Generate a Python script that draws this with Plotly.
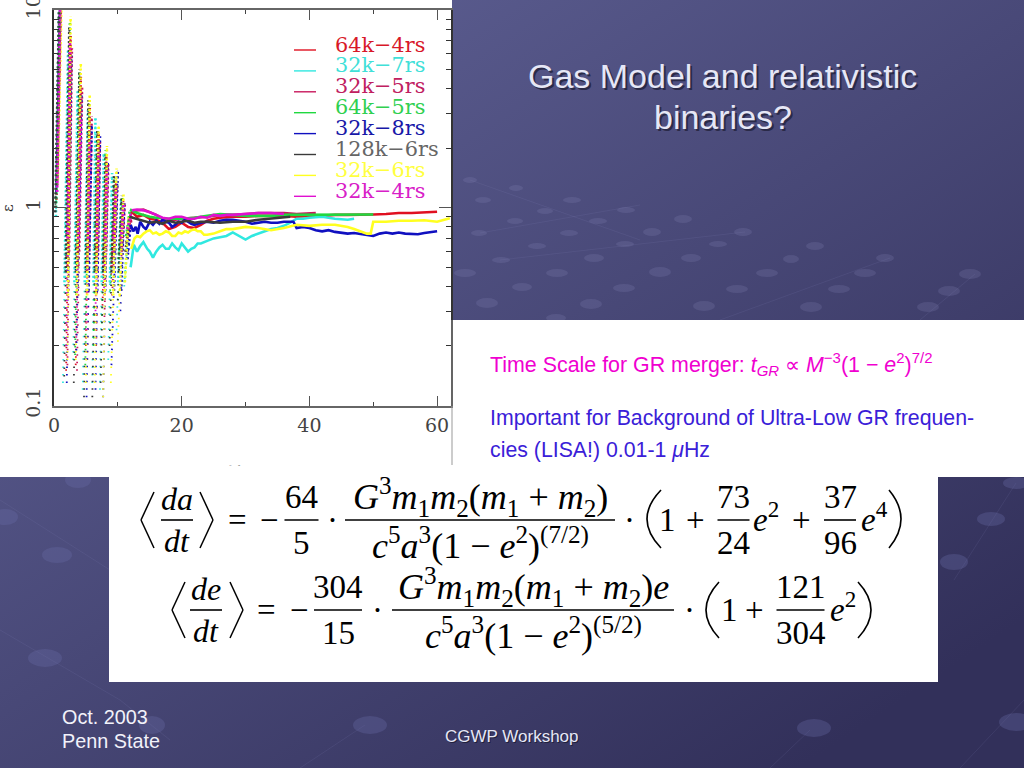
import math
import urllib.parse
import plotly.graph_objects as go

# ---- series (time, eccentricity): early oscillating part and settled part ----
RED_T0 = [0.4,1.0,1.9,2.6,3.4,4.2,5.0,5.6,6.4,7.0,7.6,8.2,8.9,9.7,10.2,10.9,11.5,12.1]
RED_E0 = [1.1,12,0.15,7.4,0.16,4.6,0.2,3.2,0.24,2.4,0.32,1.8,0.42,1.35,0.58,1.08,0.7,0.96]
RED_T1 = [12.1,13,14,15,16,17,18,19,20,21,22,23,24,25,26,28,30,32,34,36,38,40,42,44,46,48,50,52,54,56,58,60]
RED_E1 = [.96,.9,.92,.88,.87,.84,.78,.8,.84,.8,.79,.82,.86,.88,.89,.9,.9,.91,.91,.91,.9,.91,.91,.92,.92,.92,.925,.93,.94,.94,.95,.955]

CYAN_T0 = [0.3,0.8,1.4,2.2,3.0,3.7,4.5,5.3,6.0,6.5,7.2,7.8,8.5,9.1,9.8,10.5,11.0,11.7,12.0]
CYAN_E0 = [0.9,11,0.13,6.3,0.17,3.9,0.12,3.1,0.13,2.9,0.12,1.9,0.17,1.5,0.24,1.12,0.4,0.85,0.5]
CYAN_T1 = [12.0,12.5,13,13.5,14,14.6,15,15.5,16,16.5,17,17.5,18,18.5,19,19.5,20,20.5,21,21.5,22,22.5,23,24,25,26,27,28,29,30,31,32,33,34,35,36,37,38,39,40,42,44,46,47]
CYAN_E1 = [.5,.65,.6,.64,.67,.62,.6,.56,.6,.63,.65,.62,.62,.66,.63,.61,.66,.63,.6,.62,.63,.66,.66,.68,.7,.71,.72,.75,.72,.69,.72,.74,.76,.78,.79,.81,.84,.88,.88,.89,.9,.88,.87,.88]

CRIM_T0 = [0.5,1.1,2.1,2.8,3.6,4.4,5.2,5.9,6.6,7.2,7.9,8.5,9.1,9.9,10.5,11.1,11.7,12.3]
CRIM_E0 = [1.3,12,0.16,6.4,0.15,4.1,0.17,2.9,0.2,2.2,0.28,1.7,0.36,1.3,0.52,1.05,0.72,0.95]
CRIM_T1 = [12.3,13,14,15,16,17,18,19,20,22,24,26,28,30,32,34,36,38,40,41]
CRIM_E1 = [.95,.97,.98,.95,.92,.88,.86,.87,.88,.89,.9,.92,.92,.93,.94,.94,.94,.93,.94,.94]

GREEN_T0 = [0.3,0.9,1.8,2.5,3.3,4.0,4.9,5.5,6.2,6.8,7.5,8.1,8.8,9.5,10.1,10.7,11.3,11.9]
GREEN_E0 = [1.0,12,0.2,8.6,0.18,4.9,0.16,3.4,0.2,2.5,0.26,1.95,0.38,1.42,0.55,1.12,0.72,0.98]
GREEN_T1 = [11.9,13,14,15,16,18,20,22,24,26,28,30,32,34,36,38,40,42,44,46,48,50]
GREEN_E1 = [.98,.94,.92,.9,.89,.88,.88,.89,.91,.93,.92,.91,.91,.91,.92,.92,.92,.92,.92,.925,.925,.925]

BLUE_T0 = [0.4,1.0,2.0,2.7,3.5,4.3,5.1,5.9,6.5,7.2,7.7,8.4,9.0,10.0,10.4,11.0,11.5,12.0]
BLUE_E0 = [1.2,12,0.13,5.9,0.19,3.7,0.11,2.6,0.12,2.3,0.11,1.7,0.16,1.55,0.3,1.05,0.55,0.82]
BLUE_T1 = [12.0,12.4,12.8,13.1,13.5,14,14.4,15,15.5,16,16.5,17,17.5,18,18.5,19,19.5,20,20.5,21,21.5,22,23,24,25,26,27,28,29,30,31,32,33,34,35,36,37,37.5,38,39,40,41,42,43,44,45,46,47,48,49,50,51,52,53,54,55,56,57,58,59,60]
BLUE_E1 = [.82,.76,.8,.74,.85,.8,.78,.85,.82,.86,.83,.87,.85,.84,.8,.82,.85,.84,.87,.85,.83,.82,.84,.85,.84,.86,.87,.87,.86,.85,.83,.84,.85,.84,.84,.85,.85,.85,.79,.8,.79,.77,.76,.77,.755,.75,.74,.745,.735,.73,.72,.74,.75,.74,.75,.74,.74,.735,.745,.75,.76]

GRAY_T0 = [0.2,0.8,1.6,2.4,3.1,4.0,4.7,5.4,6.0,6.8,7.3,8.1,8.7,9.4,10.0,10.6,11.2,11.8]
GRAY_E0 = [0.95,11,0.14,8.2,0.13,5.0,0.11,3.5,0.11,2.5,0.13,1.85,0.2,1.45,0.34,1.15,0.6,0.9]
GRAY_T1 = [11.8,13,14,15,16,17,18,19,20,21,22,23,24,26,28,30,32,34,36,37]
GRAY_E1 = [.9,.88,.86,.84,.85,.83,.86,.84,.85,.86,.84,.85,.85,.84,.85,.85,.87,.88,.89,.9]

YEL_T0 = [0.6,1.2,2.1,2.6,3.4,4.2,5.0,5.6,6.4,7.0,7.7,8.3,8.9,9.8,10.0,10.9,11.1,11.7,12.1]
YEL_E0 = [1.4,12,0.17,9.3,0.17,5.4,0.13,3.8,0.13,2.6,0.11,2.05,0.13,1.58,0.21,1.2,0.42,0.9,0.62]
YEL_T1 = [12.1,12.6,13,13.5,14,14.5,15,15.5,16,16.5,17,17.5,18,18.5,19,19.5,20,20.5,21,21.5,22,22.5,23,23.5,24,25,26,27,28,30,32,34,36,38,40,42,44,46,47,48,49,49.6,50,52,54,56,58,60,61,62]
YEL_E1 = [.62,.7,.72,.71,.74,.76,.77,.74,.75,.73,.74,.76,.75,.72,.72,.75,.74,.76,.75,.77,.78,.76,.76,.73,.73,.74,.76,.78,.78,.8,.79,.77,.79,.82,.81,.82,.82,.8,.78,.76,.74,.74,.85,.85,.86,.86,.865,.85,.87,.885]

MAG_T0 = [0.5,1.0,1.9,2.5,3.5,4.2,5.1,5.6,6.5,7.0,7.8,8.3,9.0,9.7,10.4,10.9,11.5,12.2]
MAG_E0 = [1.2,12,0.2,7.0,0.22,2.8,0.24,2.2,0.3,1.9,0.36,1.55,0.5,1.25,0.66,1.05,0.78,0.97]
MAG_T1 = [12.2,13,14,15,16,17,18,19,20,21,22,23,24,25,26,27,28,30,32,34,36]
MAG_E1 = [.97,.98,.97,.95,.92,.89,.88,.9,.9,.88,.88,.9,.89,.92,.91,.92,.92,.93,.94,.94,.93]

LABELS = ["64k\u22124rs","32k\u22127rs","32k\u22125rs","64k\u22125rs","32k\u22128rs","128k\u22126rs","32k\u22126rs","32k\u22124rs"]
COLORS = ["#e01020","#30e8e0","#c8185c","#20d840","#1010c0","#3a3a3a","#ffff20","#e010d0"]
TEXT_COLORS = ["#d81828","#40e0d8","#c02060","#30d050","#1818a8","#666666","#ffff40","#d820c8"]
DENSE_LEVELS = [.5,.42,.6,.55,.38,.47,.36,.7]
X_TICKS = [0,20,40,60]
Y_TICKS = [0.1,1,10]
Y_TICK_TEXT = ["0.1","1","10"]
Y_MINOR = [.2,.3,.4,.5,.6,.7,.8,.9,2,3,4,5,6,7,8,9]

SERIES = [(RED_T0,RED_E0,RED_T1,RED_E1),(CYAN_T0,CYAN_E0,CYAN_T1,CYAN_E1),(CRIM_T0,CRIM_E0,CRIM_T1,CRIM_E1),
          (GREEN_T0,GREEN_E0,GREEN_T1,GREEN_E1),(BLUE_T0,BLUE_E0,BLUE_T1,BLUE_E1),(GRAY_T0,GRAY_E0,GRAY_T1,GRAY_E1),
          (YEL_T0,YEL_E0,YEL_T1,YEL_E1),(MAG_T0,MAG_E0,MAG_T1,MAG_E1)]

W, H = 1024, 768
def px(x): return x / W
def py(y): return 1 - y / H

def rises(t, e, level=None):
    """Keep only the rising strokes; with level, only the part of each stroke above it."""
    xs, ys = [], []
    for i in range(len(t)-1):
        if e[i+1] <= e[i]:
            continue
        a, b = t[i], e[i]
        if level is not None and b < level:
            if e[i+1] <= level:
                continue
            f = (math.log10(level)-math.log10(b))/(math.log10(e[i+1])-math.log10(b))
            a, b = a+f*(t[i+1]-a), level
        xs += [a, t[i+1], None]; ys += [b, e[i+1], None]
    return xs, ys

# ---- slide background (gradient, dots and faint guide lines) ----
LIGHT_DOTS = [(470,180,7,3),(516,188,7,3),(483,200,8,3),(572,200,9,3),(545,211,8,3),(626,210,9,3),(515,221,8,3),(598,221,9,3),
 (683,219,9,4),(479,233,8,3),(569,233,9,3),(652,232,9,4),(743,232,9,4),(537,246,9,3),(625,244,9,3),(718,244,9,3),(815,246,9,4),
 (501,260,9,3),(594,258,10,4),(691,258,10,4),(791,259,8,4),(885,258,9,4),(465,273,11,4),(557,273,11,4),(660,272,11,5),(767,273,11,4),
 (865,273,11,4),(970,274,11,5),(522,287,10,4),(624,288,11,4),(737,289,11,4),(839,289,11,4),(949,291,11,5),(487,303,11,5),(591,304,11,5),
 (704,306,11,5),(811,307,11,5),(928,307,11,5),(556,318,10,4)]
BIG_DOTS = [(5,517,13,8),(57,555,15,8),(45,658,17,9),(152,725,13,9),(78,480,13,8),(370,725,17,9),(1016,483,13,6),(991,519,14,7),(954,562,14,8),(814,728,17,9),(1016,722,17,9)]
GUIDES = [(0,500,110,570),(0,630,120,700),(120,700,170,740),(365,725,300,768),(810,730,770,768),(1016,483,954,580),(1024,700,960,768),(470,180,640,240),(480,233,640,205),(500,260,745,232),(720,320,890,258),(920,320,975,274)]
svg = [f'<svg xmlns="http://www.w3.org/2000/svg" width="{W}" height="{H}" viewBox="0 0 {W} {H}">',
       '<defs><linearGradient id="g" gradientUnits="userSpaceOnUse" x1="250" y1="-60" x2="800" y2="768">'
       '<stop offset="0" stop-color="#5f6195"/><stop offset="1" stop-color="#32305a"/></linearGradient></defs>',
       f'<rect width="{W}" height="{H}" fill="url(#g)"/>']
for a,b,c,d in GUIDES:
    svg.append(f'<line x1="{a}" y1="{b}" x2="{c}" y2="{d}" stroke="#8a8cc0" stroke-opacity="0.13" stroke-width="1"/>')
for x,y,rx,ry in LIGHT_DOTS:
    svg.append(f'<ellipse cx="{x}" cy="{y}" rx="{rx}" ry="{ry}" fill="#8a8cc0" fill-opacity="0.2"/>')
for x,y,rx,ry in BIG_DOTS:
    svg.append(f'<ellipse cx="{x}" cy="{y}" rx="{rx}" ry="{ry}" fill="#6a6ca8" fill-opacity="0.32"/>')
svg.append('</svg>')
bg_uri = "data:image/svg+xml;charset=utf-8," + urllib.parse.quote("".join(svg))

fig = go.Figure()
for (t0,e0,t1,e1),c in zip(SERIES, COLORS):
    xs, ys = rises(t0, e0)
    fig.add_trace(go.Scatter(x=xs, y=ys, mode="lines", line=dict(color=c, width=1.8, dash="1.5px,6px"), showlegend=False, hoverinfo="skip"))
for (t0,e0,t1,e1),c,lev in zip(SERIES, COLORS, DENSE_LEVELS):
    xs, ys = rises(t0, e0, lev)
    fig.add_trace(go.Scatter(x=xs, y=ys, mode="lines", line=dict(color=c, width=2.6, dash="2px,2.5px"), showlegend=False, hoverinfo="skip"))
for (t0,e0,t1,e1),c in zip(SERIES, COLORS):
    fig.add_trace(go.Scatter(x=t1, y=e1, mode="lines", line=dict(color=c, width=2.6), showlegend=False, hoverinfo="skip"))

shapes = []
def rect(x0,y0,x1,y1,color="white",layer="below"):
    shapes.append(dict(type="rect", xref="paper", yref="paper", x0=px(x0), x1=px(x1), y0=py(y1), y1=py(y0),
                       fillcolor=color, line_width=0, layer=layer))
def seg(x0,y0,x1,y1,color="black",width=1.5):
    shapes.append(dict(type="line", xref="paper", yref="paper", x0=px(x0), x1=px(x1), y0=py(y0), y1=py(y1),
                       line=dict(color=color, width=width), layer="above"))
def paren(x_tip,x_end,y0,y1):
    shapes.append(dict(type="path", xref="paper", yref="paper", layer="above", line=dict(color="black", width=1.6),
        path=f"M {px(x_end)},{py(y0)} Q {px(2*x_tip-x_end)},{py((y0+y1)/2)} {px(x_end)},{py(y1)}"))
rect(0,0,452,477)
rect(452,320,1024,477)
rect(109,477,938,682)
seg(452,320,452,465,"#999999",1)

ann = []
def text(x,y,s,size,color="black",family="Liberation Serif",anchor="center",angle=0,**kw):
    ann.append(dict(x=px(x), y=py(y), xref="paper", yref="paper", text=s, showarrow=False, xanchor=anchor, yanchor="middle",
                    font=dict(size=size,color=color,family=family), textangle=angle, align="left", **kw))

# legend
for i,(lab,c,tc) in enumerate(zip(LABELS,COLORS,TEXT_COLORS)):
    seg(294,50+20.9*i,316,50+20.9*i,c,1.4)
    text(333,44.5+20.9*i,lab,20.8,tc,"DejaVu Serif","left")

# axis words
text(8,208,"\u03b5",15,"#333333","DejaVu Serif",angle=-90)
text(252,473,"time",22,"#222222","DejaVu Serif")
ann.append(dict(x=px(252), y=py(465), xref="paper", yref="paper", text=" ", showarrow=False, xanchor="center", yanchor="top",
                width=90, height=26, bgcolor="white", borderpad=0))

# slide title
TITLE1, TITLE2 = "Gas Model and relativistic", "binaries?"
for dx,col in ((2,"#2a2a48"),(0,"#e6e7f6")):
    text(722.5+dx,76+dx,TITLE1,34,col,"Liberation Sans")
    text(722.5+dx,117+dx,TITLE2,34,col,"Liberation Sans")
text(60,717,"Oct. 2003",19.8,"#f2f2fa","Liberation Sans","left")
text(60,741,"Penn State",19.8,"#f2f2fa","Liberation Sans","left")
for dx,col in ((1,"#20203c"),(0,"#e6e7f6")):
    text(512+dx,736+dx,"CGWP Workshop",17,col,"Liberation Sans")

# right text
text(488,364,"Time Scale for GR merger: <i>t<sub>GR</sub></i> \u221d <i>M</i><sup>\u22123</sup>(1 \u2212 <i>e</i><sup>2</sup>)<sup>7/2</sup>",21.4,"#f000d0","Liberation Sans","left")
text(488,418,"Important for Background of Ultra-Low GR frequen-",21.3,"#3a20d8","Liberation Sans","left")
text(488,450,"cies (LISA!) 0.01-1 <i>\u03bc</i>Hz",21.3,"#3a20d8","Liberation Sans","left")

# equations
M = 33
BIG = 36
def frac(cx,yr,half,num,den,size=M,dy=23):
    seg(cx-half,yr,cx+half,yr,"black",1.6)
    text(cx,yr-dy,num,size); text(cx,yr+dy,den,size)
def angle_l(x,y,h=28,w=13):
    seg(x+w,y-h,x,y,"black",1.5); seg(x,y,x+w,y+h,"black",1.5)
def angle_r(x,y,h=28,w=13):
    seg(x,y-h,x+w,y,"black",1.5); seg(x+w,y,x,y+h,"black",1.5)

y1 = 520
angle_l(141,y1); frac(177,y1,16,"<i>da</i>","<i>dt</i>",32,21); angle_r(200,y1)
text(237,y1,"=",M); text(269,y1,"\u2212",M)
frac(301.5,y1,17,"64","5")
text(332,y1,"\u00b7",M)
frac(480,y1,135,"<i>G</i><sup>3</sup><i>m</i><sub>1</sub><i>m</i><sub>2</sub>(<i>m</i><sub>1</sub> + <i>m</i><sub>2</sub>)",
     "<i>c</i><sup>5</sup><i>a</i><sup>3</sup>(1 \u2212 <i>e</i><sup>2</sup>)<sup>(7/2)</sup>",BIG)
text(629,y1,"\u00b7",M)
paren(647,661,490,548); text(667,y1,"1",M); text(695,y1,"+",M)
frac(733.5,y1,16,"73","24")
text(766,y1-3,"<i>e</i><sup>2</sup>",M); text(801,y1,"+",M)
frac(840,y1,16,"37","96")
text(874,y1-3,"<i>e</i><sup>4</sup>",M)
paren(901,889,490,548)

y2 = 610
angle_l(172,y2); frac(206,y2,16,"<i>de</i>","<i>dt</i>",32,21); angle_r(230,y2)
text(266,y2,"=",M); text(299,y2,"\u2212",M)
frac(338,y2,24,"304","15")
text(377,y2,"\u00b7",M)
frac(533,y2,141,"<i>G</i><sup>3</sup><i>m</i><sub>1</sub><i>m</i><sub>2</sub>(<i>m</i><sub>1</sub> + <i>m</i><sub>2</sub>)<i>e</i>",
     "<i>c</i><sup>5</sup><i>a</i><sup>3</sup>(1 \u2212 <i>e</i><sup>2</sup>)<sup>(5/2)</sup>",BIG)
text(689,y2,"\u00b7",M)
paren(706,719,582,638); text(729,y2,"1",M); text(754,y2,"+",M)
frac(800.5,y2,24,"121","304")
text(843,y2-3,"<i>e</i><sup>2</sup>",M)
paren(871,858,582,638)

fig.update_layout(
    width=W, height=H, margin=dict(l=0,r=0,t=0,b=0), autosize=False,
    paper_bgcolor="#4a4a78", plot_bgcolor="rgba(0,0,0,0)", showlegend=False,
    images=[dict(source=bg_uri, xref="paper", yref="paper", x=0, y=1, sizex=1, sizey=1, sizing="stretch", layer="below", xanchor="left", yanchor="top")],
    shapes=shapes, annotations=ann,
    xaxis=dict(domain=[px(54),px(450.5)], range=[0,62.1], tickvals=X_TICKS, ticks="inside", ticklen=10, tickcolor="#555", tickwidth=1.2,
               minor=dict(dtick=10, ticks="inside", ticklen=4, tickcolor="#444", tickwidth=1.2), automargin=False,
               showgrid=False, zeroline=False, showline=True, linecolor="#666", linewidth=1.5, mirror="ticks",
               tickfont=dict(family="DejaVu Serif", size=19, color="#444"), ticklabelstandoff=2, ticklabeloverflow="allow"),
    yaxis=dict(domain=[py(405.5),py(10)], type="log", range=[-1,1], tickvals=Y_TICKS, ticktext=Y_TICK_TEXT, ticks="inside", ticklen=12, tickcolor="#555", tickwidth=1.2,
               minor=dict(tickvals=Y_MINOR, ticks="inside", ticklen=5, tickcolor="#333", tickwidth=1.2), automargin=False,
               showgrid=False, zeroline=False, showline=True, linecolor="#333", linewidth=1.5, mirror="ticks",
               tickfont=dict(family="DejaVu Serif", size=19, color="#444"), tickangle=-90, ticklabelstandoff=5, ticklabeloverflow="allow"),
)
fig.write_html("out.html", post_script="document.body.style.margin='0';document.documentElement.style.overflow='hidden';", config=dict(displayModeBar=False))
